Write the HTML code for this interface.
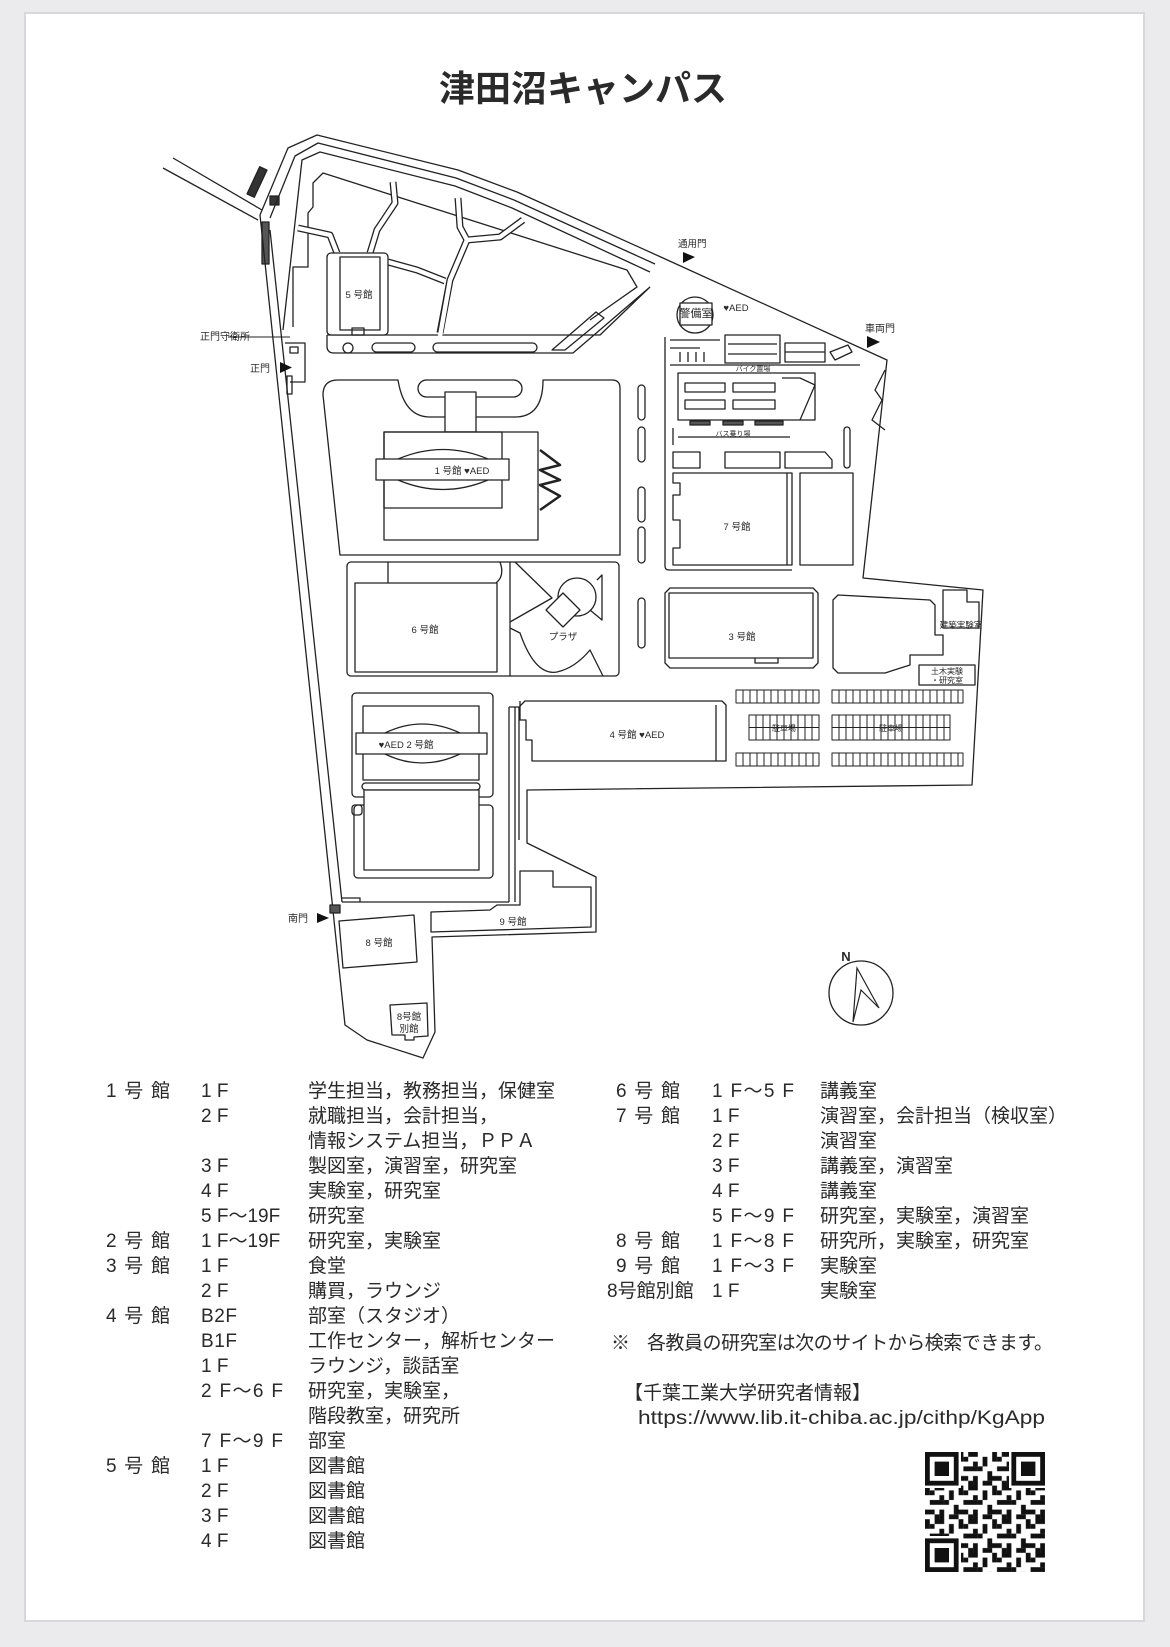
<!DOCTYPE html>
<html><head><meta charset="utf-8"><style>
html,body{margin:0;padding:0;background:#ebebee;}
svg{display:block;}
text{font-family:"Liberation Sans","Noto Sans CJK JP",sans-serif;fill:#2a2a2a;}
</style></head><body>
<svg width="1170" height="1647" viewBox="0 0 1170 1647" xmlns="http://www.w3.org/2000/svg">
<defs>
<pattern id="qr" x="925" y="1452" width="33.6" height="33.6" patternUnits="userSpaceOnUse">
<rect x="0" y="0" width="4.8" height="9.6" fill="#111"/><rect x="9.6" y="0" width="9.6" height="4.8" fill="#111"/><rect x="24" y="4.8" width="4.8" height="9.6" fill="#111"/><rect x="4.8" y="14.4" width="14.4" height="4.8" fill="#111"/><rect x="28.8" y="19.2" width="4.8" height="9.6" fill="#111"/><rect x="0" y="24" width="9.6" height="4.8" fill="#111"/><rect x="14.4" y="24" width="4.8" height="9.6" fill="#111"/><rect x="19.2" y="14.4" width="4.8" height="4.8" fill="#111"/><rect x="9.6" y="28.8" width="4.8" height="4.8" fill="#111"/><rect x="24" y="28.8" width="9.6" height="4.8" fill="#111"/><rect x="14.4" y="9.6" width="4.8" height="4.8" fill="#111"/><rect x="4.8" y="4.8" width="4.8" height="4.8" fill="#111"/>
</pattern>
</defs>
<rect x="0" y="0" width="1170" height="1647" fill="#ebebee"/>
<rect x="24" y="12" width="1121" height="1610" fill="#d8d8dc"/>
<rect x="26" y="14" width="1117" height="1606" fill="#fff"/>

<text x="583" y="101" font-size="36" text-anchor="middle" font-weight="bold" style="font-family:'Noto Sans CJK JP',sans-serif">津田沼キャンパス</text>

<g fill="none" stroke="#222" stroke-width="1.3" stroke-linejoin="round">
<line x1="173" y1="158" x2="262" y2="210"/><line x1="163" y1="168" x2="258" y2="220"/>
<rect x="253" y="167" width="8" height="30" fill="#333" transform="rotate(25 257 182)"/>
<rect x="262" y="222" width="7" height="42" fill="#555"/>
<rect x="270" y="196" width="9" height="9" fill="#333"/>
<path d="M260,215 L288,148 L317,135 L458,170 L517,192 L663,258 L887,360 L863,578 L983,590 L972,785 L527,790 L527,843 L596,877 L596,932 L432,937 L435,1032 L423,1058 L367,1040 L345,1025 Z"/>
<path d="M270,218 L295,156 L318,143 L456,178 L514,200 L655,264"/>
<path d="M283,330 L302,160 L320,152 L455,186 L512,208 L650,272"/>
<line x1="270" y1="230" x2="342" y2="902"/>
<path d="M293,327 L293,267 L308,267 L308,213 L313,207 L313,183 L323,173 L627,270 L637,287 L590,320"/>
<path d="M327,335 L600,335 L650,287 M327,335 L327,346 Q327,353 334,353 L573,353 L650,287"/>
<circle cx="348" cy="348" r="5"/>
<rect x="372" y="343" width="43" height="9" rx="4.5"/>
<rect x="433" y="343" width="104" height="9" rx="4.5"/>
<path d="M552,350 L596,312 L604,318 L565,350 Z"/>
</g>
<g fill="none" stroke-linecap="butt" stroke-linejoin="round">
<g stroke="#222" stroke-width="7">
<path d="M393,182 L395,203 L377,230 L370,253"/>
<path d="M458,198 L460,227 L467,240 L450,280 L440,333"/>
<path d="M467,240 L500,237 L523,220"/>
<path d="M388,262 L417,270 L445,281"/>
<path d="M298,228 L330,235 L337,253"/>
</g>
<g stroke="#fff" stroke-width="4.4">
<path d="M393,182 L395,203 L377,230 L370,253"/>
<path d="M458,198 L460,227 L467,240 L450,280 L440,336"/>
<path d="M467,240 L500,237 L523,220"/>
<path d="M388,262 L417,270 L445,281"/>
<path d="M298,228 L330,235 L337,253"/>
</g>
</g>
<g fill="none" stroke="#222" stroke-width="1.3" stroke-linejoin="round">
<rect x="327" y="253" width="61" height="82" rx="4" fill="#fff"/>
<path d="M340,257 L380,257 L380,330 L340,330 Z"/>
<rect x="352" y="328" width="12" height="7"/>
<line x1="228" y1="337" x2="290" y2="337" stroke-width="1"/>
<path d="M285,343 L305,343 L305,382 L290,382"/>
<rect x="290" y="347" width="8" height="6"/>
<rect x="287" y="376" width="5" height="18"/>
<path d="M323,395 Q323,380 338,380 L398,380 Q404,417 430,417 L515,417 Q543,417 543,380 L612,380 Q620,380 620,388 L620,555 L340,555 Z"/>
<rect x="418" y="380" width="104" height="17" rx="8.5"/>
<rect x="445" y="392" width="31" height="40" fill="#fff"/>
<rect x="384" y="432" width="154" height="108" fill="#fff"/>
<rect x="384" y="432" width="118" height="76"/>
<path d="M398,459 Q443,440 488,459 M398,480 Q443,499 488,480"/>
<rect x="376" y="459" width="133" height="21" fill="#fff"/>
<path d="M540,450 L560,465 L540,470 L560,480 L540,485 L560,496 L540,510" stroke-width="2.5"/>
<rect x="347" y="562" width="272" height="114" rx="4"/>
<line x1="510" y1="562" x2="510" y2="676"/>
<path d="M388,562 L388,583 M355,583 L497,583 L497,672 L355,672 Z M496,583 Q505,576 500,562"/>
<path d="M515,562 L552,598 L510,622 M510,628 L520,633 Q535,676 557,672 Q575,668 590,650 L603,676"/>
<circle cx="577" cy="597" r="19"/>
<path d="M563,593 L580,610 L563,627 L546,610 Z" fill="#fff"/>
<path d="M597,580 L602,575 L602,620 L590,610"/>
<rect x="638" y="385" width="7" height="35" rx="3.5"/>
<rect x="638" y="427" width="7" height="35" rx="3.5"/>
<rect x="638" y="487" width="7" height="35" rx="3.5"/>
<rect x="638" y="527" width="7" height="36" rx="3.5"/>
<rect x="638" y="598" width="7" height="50" rx="3.5"/>
<path d="M665,337 L665,566 Q665,570 669,570 L792,570"/>
<circle cx="695" cy="315" r="18"/>
<rect x="680" y="303" width="32" height="22" fill="#fff"/>
<path d="M670,340 L720,340 M670,348 L700,348 M680,352 L680,362 M688,352 L688,362 M696,352 L696,362 M704,352 L704,362 M670,365 L860,365"/>
<rect x="725" y="335" width="55" height="28"/><line x1="728" y1="344" x2="777" y2="344"/><line x1="728" y1="354" x2="777" y2="354"/>
<rect x="785" y="343" width="40" height="19"/><line x1="785" y1="352" x2="825" y2="352"/>
<path d="M830,352 L848,345 L852,352 L835,360 Z"/>
<rect x="678" y="373" width="137" height="47"/>
<path d="M685,383 L725,383 L725,392 L685,392 Z M733,383 L775,383 L775,392 L733,392 Z M685,400 L725,400 L725,409 L685,409 Z M733,400 L775,400 L775,409 L733,409 Z M782,378 L800,378 L815,385 L800,420"/>
<rect x="690" y="421" width="20" height="4" fill="#555"/><rect x="723" y="421" width="20" height="4" fill="#555"/><rect x="755" y="421" width="28" height="4" fill="#555"/>
<path d="M673,428 L673,445 M678,437 L790,437"/>
<path d="M673,452 L700,452 L700,468 L673,468 Z M725,452 L780,452 L780,468 L725,468 Z M785,452 L825,452 L832,460 L832,468 L785,468 Z"/>
<rect x="844" y="427" width="6" height="41" rx="3"/>
<path d="M885,370 L875,390 L882,400 L872,420 L885,430"/>
<path d="M673,473 L792,473 L792,565 L673,565 L673,548 L680,548 L680,520 L673,520 L673,495 L680,495 L680,483 L673,483 Z"/>
<line x1="787" y1="473" x2="787" y2="565"/>
<rect x="800" y="473" width="53" height="92"/>
<path d="M670,588 L813,588 L818,593 L818,663 L813,668 L670,668 L665,663 L665,593 Z"/>
<rect x="669" y="593" width="144" height="65"/>
<path d="M755,658 L755,663 L778,663 L778,658"/>
<path d="M833,600 L838,595 L930,600 L935,605 L935,635 L943,635 L943,655 L910,655 L910,665 L885,673 L838,673 L833,668 Z"/>
<path d="M943,590 L967,590 L967,602 L979,602 L979,628 L943,628 Z"/>
<rect x="919" y="665" width="56" height="20"/>
<g stroke-width="1">
<rect x="736" y="690" width="83" height="13"/><rect x="832" y="690" width="131" height="13"/>
<rect x="749" y="715" width="70" height="25"/><rect x="832" y="715" width="118" height="25"/>
<line x1="749" y1="727.5" x2="819" y2="727.5"/><line x1="832" y1="727.5" x2="950" y2="727.5"/>
<rect x="736" y="753" width="83" height="13"/><rect x="832" y="753" width="131" height="13"/>
<path d="M743,690v13M750,690v13M757,690v13M764,690v13M771,690v13M778,690v13M785,690v13M792,690v13M799,690v13M806,690v13M813,690v13
M743,753v13M750,753v13M757,753v13M764,753v13M771,753v13M778,753v13M785,753v13M792,753v13M799,753v13M806,753v13M813,753v13
M756,715v25M763,715v25M770,715v25M777,715v25M784,715v25M791,715v25M798,715v25M805,715v25M812,715v25
M839,690v13M846,690v13M853,690v13M860,690v13M867,690v13M874,690v13M881,690v13M888,690v13M895,690v13M902,690v13M909,690v13M916,690v13M923,690v13M930,690v13M937,690v13M944,690v13M951,690v13M958,690v13
M839,753v13M846,753v13M853,753v13M860,753v13M867,753v13M874,753v13M881,753v13M888,753v13M895,753v13M902,753v13M909,753v13M916,753v13M923,753v13M930,753v13M937,753v13M944,753v13M951,753v13M958,753v13
M839,715v25M846,715v25M853,715v25M860,715v25M867,715v25M874,715v25M881,715v25M888,715v25M895,715v25M902,715v25M909,715v25M916,715v25M923,715v25M930,715v25M937,715v25M944,715v25"/>
</g>
<rect x="352" y="693" width="141" height="104" rx="4"/>
<rect x="363" y="706" width="116" height="74"/>
<path d="M385,733 Q422,715 460,733 M385,754 Q422,772 460,754"/>
<rect x="356" y="733" width="131" height="21" fill="#fff"/>
<rect x="362" y="783" width="118" height="7" rx="3.5" fill="#fff"/>
<rect x="354" y="805" width="139" height="73" rx="4"/>
<rect x="364" y="790" width="115" height="80" fill="#fff"/>
<rect x="352" y="805" width="10" height="10" rx="3"/>
<path d="M509,707 L509,902 M515,707 L515,902 M519,707 L519,840 M520,701 L520,707 L509,707"/>
<path d="M525,701 L722,701 L726,705 L726,761 L532,761 L532,740 L526,740 L526,720 L520,720 L520,706 Z"/>
<line x1="716" y1="705" x2="716" y2="761"/>
<path d="M342,902 L509,902 M342,898 L360,898 L360,902"/>
<path d="M520,871 L553,871 L553,887 L591,887 L591,927 L431,932 L431,912 L490,910 L497,905 L520,905 Z"/>
<path d="M339,921 L414,915 L417,962 L343,968 Z"/>
<path d="M390,1005 L427,1003 L428,1036 L414,1037 L414,1040 L405,1040 L405,1035 L392,1035 Z"/>
<rect x="330" y="905" width="10" height="8" fill="#555"/>
</g>

<g fill="#111">
<path d="M280,362 L292,367.5 L280,373 Z"/>
<path d="M317,913 L329,918 L317,923 Z"/>
<path d="M683,252 L695,257 L683,263 Z"/>
<path d="M867,336 L880,342 L867,348 Z"/>
</g>

<g font-size="9.5" fill="#444">
<text x="200" y="340" font-size="10">正門守衛所</text>
<text x="250" y="372" font-size="10">正門</text>
<text x="288" y="922" font-size="10">南門</text>
<text x="678" y="247" font-size="9.5">通用門</text>
<text x="865" y="332" font-size="10">車両門</text>
<text x="359" y="298" text-anchor="middle">5 号館</text>
<text x="462" y="474" text-anchor="middle">1 号館 ♥AED</text>
<text x="425" y="633" text-anchor="middle">6 号館</text>
<text x="563" y="640" text-anchor="middle">プラザ</text>
<text x="406" y="748" text-anchor="middle">♥AED 2 号館</text>
<text x="637" y="738" text-anchor="middle">4 号館 ♥AED</text>
<text x="737" y="530" text-anchor="middle">7 号館</text>
<text x="742" y="640" text-anchor="middle">3 号館</text>
<text x="379" y="946" text-anchor="middle">8 号館</text>
<text x="513" y="925" text-anchor="middle">9 号館</text>
<text x="409" y="1020" text-anchor="middle">8号館</text>
<text x="409" y="1032" text-anchor="middle">別館</text>
<text x="696" y="317" text-anchor="middle" font-size="11">警備室</text>
<text x="736" y="311" text-anchor="middle">♥AED</text>
<text x="753" y="371" text-anchor="middle" font-size="7">バイク置場</text>
<text x="733" y="436" text-anchor="middle" font-size="7">バス乗り場</text>
<text x="961" y="628" text-anchor="middle" font-size="8.5">建築実験室</text>
<text x="947" y="674" text-anchor="middle" font-size="8">土木実験</text>
<text x="947" y="683" text-anchor="middle" font-size="8">・研究室</text>
<text x="784" y="731" text-anchor="middle" font-size="8">駐車場</text>
<text x="891" y="731" text-anchor="middle" font-size="8">駐車場</text>
</g>

<circle cx="861" cy="993" r="32" fill="none" stroke="#222" stroke-width="1.3"/>
<path d="M853,1022 L857,968 L879,1008 L861,990 Z" fill="none" stroke="#222" stroke-width="1.2"/>
<text x="846" y="961" font-size="13" fill="#222" text-anchor="middle" font-weight="bold">N</text>

<g font-size="19">
<text x="106" y="1097" textLength="64">1 号 館</text><text x="201" y="1097">1 F</text><text x="308" y="1097">学生担当，教務担当，保健室</text>
<text x="201" y="1122">2 F</text><text x="308" y="1122">就職担当，会計担当，</text>
<text x="308" y="1147">情報システム担当，ＰＰＡ</text>
<text x="201" y="1172">3 F</text><text x="308" y="1172">製図室，演習室，研究室</text>
<text x="201" y="1197">4 F</text><text x="308" y="1197">実験室，研究室</text>
<text x="201" y="1222">5 F～19F</text><text x="308" y="1222">研究室</text>
<text x="106" y="1247" textLength="64">2 号 館</text><text x="201" y="1247">1 F～19F</text><text x="308" y="1247">研究室，実験室</text>
<text x="106" y="1272" textLength="64">3 号 館</text><text x="201" y="1272">1 F</text><text x="308" y="1272">食堂</text>
<text x="201" y="1297">2 F</text><text x="308" y="1297">購買，ラウンジ</text>
<text x="106" y="1322" textLength="64">4 号 館</text><text x="201" y="1322" textLength="36">B 2 F</text><text x="308" y="1322">部室（スタジオ）</text>
<text x="201" y="1347" textLength="36">B 1 F</text><text x="308" y="1347">工作センター，解析センター</text>
<text x="201" y="1372">1 F</text><text x="308" y="1372">ラウンジ，談話室</text>
<text x="201" y="1397" textLength="82">2 F～6 F</text><text x="308" y="1397">研究室，実験室，</text>
<text x="308" y="1422">階段教室，研究所</text>
<text x="201" y="1447" textLength="82">7 F～9 F</text><text x="308" y="1447">部室</text>
<text x="106" y="1472" textLength="64">5 号 館</text><text x="201" y="1472">1 F</text><text x="308" y="1472">図書館</text>
<text x="201" y="1497">2 F</text><text x="308" y="1497">図書館</text>
<text x="201" y="1522">3 F</text><text x="308" y="1522">図書館</text>
<text x="201" y="1547">4 F</text><text x="308" y="1547">図書館</text>

<text x="616" y="1097" textLength="64">6 号 館</text><text x="712" y="1097" textLength="82">1 F～5 F</text><text x="820" y="1097">講義室</text>
<text x="616" y="1122" textLength="64">7 号 館</text><text x="712" y="1122">1 F</text><text x="820" y="1122">演習室，会計担当（検収室）</text>
<text x="712" y="1147">2 F</text><text x="820" y="1147">演習室</text>
<text x="712" y="1172">3 F</text><text x="820" y="1172">講義室，演習室</text>
<text x="712" y="1197">4 F</text><text x="820" y="1197">講義室</text>
<text x="712" y="1222" textLength="82">5 F～9 F</text><text x="820" y="1222">研究室，実験室，演習室</text>
<text x="616" y="1247" textLength="64">8 号 館</text><text x="712" y="1247" textLength="82">1 F～8 F</text><text x="820" y="1247">研究所，実験室，研究室</text>
<text x="616" y="1272" textLength="64">9 号 館</text><text x="712" y="1272" textLength="82">1 F～3 F</text><text x="820" y="1272">実験室</text>
<text x="607" y="1297">8号館別館</text><text x="712" y="1297">1 F</text><text x="820" y="1297">実験室</text>

<text x="611" y="1349">※</text><text x="647" y="1349" textLength="406">各教員の研究室は次のサイトから検索できます。</text>
<text x="624" y="1399">【千葉工業大学研究者情報】</text>
<text x="638" y="1424" textLength="407" lengthAdjust="spacingAndGlyphs">https://www.lib.it-chiba.ac.jp/cithp/KgApp</text>
</g>

<rect x="925" y="1452" width="120" height="120" fill="url(#qr)"/>
<g>
<rect x="925" y="1452" width="36" height="36" fill="#fff"/><rect x="925" y="1452" width="33.6" height="33.6" fill="#111"/><rect x="929.8" y="1456.8" width="24" height="24" fill="#fff"/><rect x="934.6" y="1461.6" width="14.4" height="14.4" fill="#111"/>
<rect x="1009" y="1452" width="36" height="36" fill="#fff"/><rect x="1011.4" y="1452" width="33.6" height="33.6" fill="#111"/><rect x="1016.2" y="1456.8" width="24" height="24" fill="#fff"/><rect x="1021" y="1461.6" width="14.4" height="14.4" fill="#111"/>
<rect x="925" y="1536" width="36" height="36" fill="#fff"/><rect x="925" y="1538.4" width="33.6" height="33.6" fill="#111"/><rect x="929.8" y="1543.2" width="24" height="24" fill="#fff"/><rect x="934.6" y="1548" width="14.4" height="14.4" fill="#111"/>
</g>
</svg>
</body></html>
